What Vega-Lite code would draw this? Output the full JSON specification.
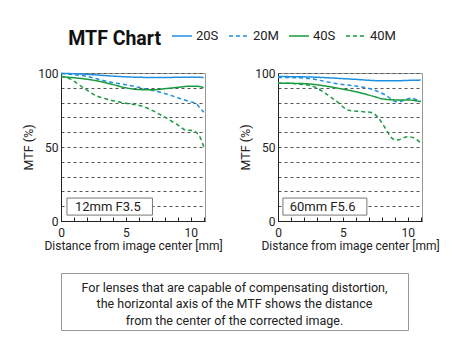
{
  "$schema": "https://vega.github.io/schema/vega-lite/v6.json",
  "background": "white",
  "padding": {"left": 22, "top": 25, "right": 5, "bottom": 5},
  "config": {
    "font": "Roboto",
    "view": {"stroke": "#999999", "strokeWidth": 1},
    "axis": {
      "labelFont": "Roboto", "titleFont": "Roboto",
      "labelFontSize": 12, "labelColor": "#222222",
      "titleFontSize": 12.5, "titleFontWeight": "normal", "titleColor": "#222222",
      "domainColor": "#222222", "tickColor": "#222222",
      "gridColor": "#555555", "gridDash": [3, 3], "gridWidth": 1
    },
    "axisX": {"titleFontSize": 12},
    "legend": {"labelFont": "Roboto"},
    "title": {"font": "Roboto"},
    "text": {"font": "Roboto"}
  },
  "title": {"text": "MTF Chart", "anchor": "start", "fontSize": 19.5, "fontWeight": "bold", "color": "#111111", "dx": 46, "offset": -24},
  "datasets": {
    "labels": [
      {"lens": "12mm F3.5", "x1": 0.46, "x2": 7.05, "y1": 4, "y2": 15.5, "tx": 1.07, "ty": 9.6},
      {"lens": "60mm F5.6", "x1": 0.38, "x2": 6.85, "y1": 4, "y2": 15.5, "tx": 0.9, "ty": 9.6}
    ],
    "note": [
      {"line": 1, "text": "For lenses that are capable of compensating distortion,"},
      {"line": 2, "text": "the horizontal axis of the MTF shows the distance"},
      {"line": 3, "text": "from the center of the corrected image."}
    ],
    "mtf": [
      {"lens": "12mm F3.5", "series": "20S", "x": 0, "y": 99.7},
      {"lens": "12mm F3.5", "series": "20S", "x": 1, "y": 99.5},
      {"lens": "12mm F3.5", "series": "20S", "x": 2, "y": 99.1},
      {"lens": "12mm F3.5", "series": "20S", "x": 3, "y": 98.5},
      {"lens": "12mm F3.5", "series": "20S", "x": 4, "y": 97.9},
      {"lens": "12mm F3.5", "series": "20S", "x": 5, "y": 97.4},
      {"lens": "12mm F3.5", "series": "20S", "x": 6, "y": 97.1},
      {"lens": "12mm F3.5", "series": "20S", "x": 7, "y": 97.0},
      {"lens": "12mm F3.5", "series": "20S", "x": 8, "y": 97.0},
      {"lens": "12mm F3.5", "series": "20S", "x": 9, "y": 97.1},
      {"lens": "12mm F3.5", "series": "20S", "x": 10, "y": 97.2},
      {"lens": "12mm F3.5", "series": "20S", "x": 11, "y": 97.0},

      {"lens": "12mm F3.5", "series": "20M", "x": 0, "y": 99.6},
      {"lens": "12mm F3.5", "series": "20M", "x": 1, "y": 98.9},
      {"lens": "12mm F3.5", "series": "20M", "x": 2, "y": 97.7},
      {"lens": "12mm F3.5", "series": "20M", "x": 3, "y": 95.5},
      {"lens": "12mm F3.5", "series": "20M", "x": 4, "y": 93.5},
      {"lens": "12mm F3.5", "series": "20M", "x": 5, "y": 92.0},
      {"lens": "12mm F3.5", "series": "20M", "x": 6, "y": 90.3},
      {"lens": "12mm F3.5", "series": "20M", "x": 7, "y": 88.3},
      {"lens": "12mm F3.5", "series": "20M", "x": 8, "y": 86.2},
      {"lens": "12mm F3.5", "series": "20M", "x": 9, "y": 83.3},
      {"lens": "12mm F3.5", "series": "20M", "x": 10, "y": 80.5},
      {"lens": "12mm F3.5", "series": "20M", "x": 10.4, "y": 79.5},
      {"lens": "12mm F3.5", "series": "20M", "x": 10.75, "y": 76.0},
      {"lens": "12mm F3.5", "series": "20M", "x": 11, "y": 73.5},

      {"lens": "12mm F3.5", "series": "40S", "x": 0, "y": 97.5},
      {"lens": "12mm F3.5", "series": "40S", "x": 1, "y": 96.8},
      {"lens": "12mm F3.5", "series": "40S", "x": 2, "y": 95.8},
      {"lens": "12mm F3.5", "series": "40S", "x": 3, "y": 94.3},
      {"lens": "12mm F3.5", "series": "40S", "x": 4, "y": 92.2},
      {"lens": "12mm F3.5", "series": "40S", "x": 5, "y": 90.0},
      {"lens": "12mm F3.5", "series": "40S", "x": 6, "y": 88.8},
      {"lens": "12mm F3.5", "series": "40S", "x": 7, "y": 88.6},
      {"lens": "12mm F3.5", "series": "40S", "x": 8, "y": 89.4},
      {"lens": "12mm F3.5", "series": "40S", "x": 9, "y": 90.3},
      {"lens": "12mm F3.5", "series": "40S", "x": 10, "y": 91.1},
      {"lens": "12mm F3.5", "series": "40S", "x": 10.5, "y": 91.0},
      {"lens": "12mm F3.5", "series": "40S", "x": 11, "y": 90.2},

      {"lens": "12mm F3.5", "series": "40M", "x": 0, "y": 97.8},
      {"lens": "12mm F3.5", "series": "40M", "x": 0.6, "y": 96.4},
      {"lens": "12mm F3.5", "series": "40M", "x": 1.6, "y": 90.8},
      {"lens": "12mm F3.5", "series": "40M", "x": 2.6, "y": 85.1},
      {"lens": "12mm F3.5", "series": "40M", "x": 3.6, "y": 82.2},
      {"lens": "12mm F3.5", "series": "40M", "x": 5, "y": 79.6},
      {"lens": "12mm F3.5", "series": "40M", "x": 6.4, "y": 77.2},
      {"lens": "12mm F3.5", "series": "40M", "x": 7.7, "y": 71.6},
      {"lens": "12mm F3.5", "series": "40M", "x": 9, "y": 64.9},
      {"lens": "12mm F3.5", "series": "40M", "x": 9.6, "y": 61.5},
      {"lens": "12mm F3.5", "series": "40M", "x": 10.2, "y": 61.0},
      {"lens": "12mm F3.5", "series": "40M", "x": 10.75, "y": 56.0},
      {"lens": "12mm F3.5", "series": "40M", "x": 11, "y": 50.2},

      {"lens": "60mm F5.6", "series": "20S", "x": 0, "y": 97.6},
      {"lens": "60mm F5.6", "series": "20S", "x": 2, "y": 97.4},
      {"lens": "60mm F5.6", "series": "20S", "x": 4, "y": 96.7},
      {"lens": "60mm F5.6", "series": "20S", "x": 5, "y": 96.2},
      {"lens": "60mm F5.6", "series": "20S", "x": 6, "y": 95.7},
      {"lens": "60mm F5.6", "series": "20S", "x": 7, "y": 95.1},
      {"lens": "60mm F5.6", "series": "20S", "x": 8, "y": 94.7},
      {"lens": "60mm F5.6", "series": "20S", "x": 9, "y": 94.7},
      {"lens": "60mm F5.6", "series": "20S", "x": 10, "y": 95.0},
      {"lens": "60mm F5.6", "series": "20S", "x": 11, "y": 95.2},

      {"lens": "60mm F5.6", "series": "20M", "x": 0, "y": 97.0},
      {"lens": "60mm F5.6", "series": "20M", "x": 1, "y": 96.9},
      {"lens": "60mm F5.6", "series": "20M", "x": 2.4, "y": 96.3},
      {"lens": "60mm F5.6", "series": "20M", "x": 3.65, "y": 94.3},
      {"lens": "60mm F5.6", "series": "20M", "x": 4.68, "y": 92.6},
      {"lens": "60mm F5.6", "series": "20M", "x": 5.97, "y": 91.2},
      {"lens": "60mm F5.6", "series": "20M", "x": 7.25, "y": 89.0},
      {"lens": "60mm F5.6", "series": "20M", "x": 8.28, "y": 85.1},
      {"lens": "60mm F5.6", "series": "20M", "x": 9.18, "y": 80.5},
      {"lens": "60mm F5.6", "series": "20M", "x": 9.8, "y": 81.8},
      {"lens": "60mm F5.6", "series": "20M", "x": 10.2, "y": 83.0},
      {"lens": "60mm F5.6", "series": "20M", "x": 10.7, "y": 82.0},
      {"lens": "60mm F5.6", "series": "20M", "x": 11, "y": 81.2},

      {"lens": "60mm F5.6", "series": "40S", "x": 0, "y": 93.0},
      {"lens": "60mm F5.6", "series": "40S", "x": 1, "y": 93.0},
      {"lens": "60mm F5.6", "series": "40S", "x": 2.4, "y": 92.6},
      {"lens": "60mm F5.6", "series": "40S", "x": 3.65, "y": 91.2},
      {"lens": "60mm F5.6", "series": "40S", "x": 4.68, "y": 89.6},
      {"lens": "60mm F5.6", "series": "40S", "x": 5.97, "y": 87.4},
      {"lens": "60mm F5.6", "series": "40S", "x": 7.25, "y": 84.5},
      {"lens": "60mm F5.6", "series": "40S", "x": 8.28, "y": 82.2},
      {"lens": "60mm F5.6", "series": "40S", "x": 9.3, "y": 81.8},
      {"lens": "60mm F5.6", "series": "40S", "x": 10, "y": 81.8},
      {"lens": "60mm F5.6", "series": "40S", "x": 11, "y": 80.6},

      {"lens": "60mm F5.6", "series": "40M", "x": 0, "y": 93.0},
      {"lens": "60mm F5.6", "series": "40M", "x": 1, "y": 93.0},
      {"lens": "60mm F5.6", "series": "40M", "x": 1.6, "y": 92.6},
      {"lens": "60mm F5.6", "series": "40M", "x": 2.75, "y": 90.8},
      {"lens": "60mm F5.6", "series": "40M", "x": 3.65, "y": 86.3},
      {"lens": "60mm F5.6", "series": "40M", "x": 4.55, "y": 80.6},
      {"lens": "60mm F5.6", "series": "40M", "x": 5.45, "y": 74.8},
      {"lens": "60mm F5.6", "series": "40M", "x": 6.48, "y": 73.9},
      {"lens": "60mm F5.6", "series": "40M", "x": 7.25, "y": 73.2},
      {"lens": "60mm F5.6", "series": "40M", "x": 7.76, "y": 69.4},
      {"lens": "60mm F5.6", "series": "40M", "x": 8.28, "y": 62.6},
      {"lens": "60mm F5.6", "series": "40M", "x": 8.8, "y": 55.9},
      {"lens": "60mm F5.6", "series": "40M", "x": 9.2, "y": 54.7},
      {"lens": "60mm F5.6", "series": "40M", "x": 10, "y": 57.0},
      {"lens": "60mm F5.6", "series": "40M", "x": 10.5, "y": 56.0},
      {"lens": "60mm F5.6", "series": "40M", "x": 11, "y": 52.7}
    ]
  },
  "vconcat": [
    {
      "hconcat": [
        {
          "width": 144, "height": 148,
          "layer": [
            {
              "data": {"name": "labels"},
              "transform": [{"filter": "datum.lens === '12mm F3.5'"}],
              "mark": {"type": "rect", "fill": "white", "stroke": "#777777", "strokeWidth": 1},
              "encoding": {
                "x": {"field": "x1", "type": "quantitative", "scale": {"domain": [0, 11.1], "nice": false},
                  "axis": {"title": "Distance from image center [mm]", "values": [0,1,2,3,4,5,6,7,8,9,10,11],
                    "labelExpr": "datum.value % 5 === 0 ? datum.label : ''", "tickSize": -4, "labelPadding": 10, "titlePadding": 2, "grid": false, "labelFlush": false}},
                "x2": {"field": "x2"},
                "y": {"field": "y1", "type": "quantitative", "scale": {"domain": [0, 100], "nice": false},
                  "axis": {"title": "MTF (%)", "values": [0,10,20,30,40,50,60,70,80,90,100],
                    "labelExpr": "datum.value % 50 === 0 ? datum.label : ''", "ticks": false, "labelPadding": 3, "titlePadding": 2, "grid": true}},
                "y2": {"field": "y2"}
              }
            },
            {
              "data": {"name": "labels"},
              "transform": [{"filter": "datum.lens === '12mm F3.5'"}],
              "mark": {"type": "text", "align": "left", "baseline": "middle", "fontSize": 13, "color": "#222222"},
              "encoding": {
                "x": {"field": "tx", "type": "quantitative", "scale": {"domain": [0, 11.1], "nice": false},
                  "axis": {"title": "Distance from image center [mm]", "values": [0,1,2,3,4,5,6,7,8,9,10,11],
                    "labelExpr": "datum.value % 5 === 0 ? datum.label : ''", "tickSize": -4, "labelPadding": 10, "titlePadding": 2, "grid": false, "labelFlush": false}},
                "y": {"field": "ty", "type": "quantitative", "scale": {"domain": [0, 100], "nice": false},
                  "axis": {"title": "MTF (%)", "values": [0,10,20,30,40,50,60,70,80,90,100],
                    "labelExpr": "datum.value % 50 === 0 ? datum.label : ''", "ticks": false, "labelPadding": 3, "titlePadding": 2, "grid": true}},
                "text": {"field": "lens"}
              }
            },
            {
              "data": {"name": "mtf"},
              "transform": [{"filter": "datum.lens === '12mm F3.5'"}],
              "mark": {"type": "line", "interpolate": "monotone", "strokeWidth": 1.5},
              "encoding": {
                "x": {"field": "x", "type": "quantitative", "scale": {"domain": [0, 11.1], "nice": false},
                  "axis": {"title": "Distance from image center [mm]", "values": [0,1,2,3,4,5,6,7,8,9,10,11],
                    "labelExpr": "datum.value % 5 === 0 ? datum.label : ''", "tickSize": -4, "labelPadding": 10, "titlePadding": 2, "grid": false, "labelFlush": false}},
                "y": {"field": "y", "type": "quantitative", "scale": {"domain": [0, 100], "nice": false},
                  "axis": {"title": "MTF (%)", "values": [0,10,20,30,40,50,60,70,80,90,100],
                    "labelExpr": "datum.value % 50 === 0 ? datum.label : ''", "ticks": false, "labelPadding": 3, "titlePadding": 2, "grid": true}},
                "color": {"field": "series", "type": "nominal",
                  "scale": {"domain": ["20S", "20M", "40S", "40M"], "range": ["#1e8fe0", "#1e8fe0", "#1a9a40", "#1a9a40"]},
                  "legend": {"orient": "none", "direction": "horizontal", "legendX": 110, "legendY": -48, "title": null,
                    "symbolType": "stroke", "symbolSize": 400, "symbolStrokeWidth": 1.5, "labelFontSize": 13, "labelOffset": 3, "columnPadding": 7, "labelColor": "#222222"}},
                "strokeDash": {"field": "series", "type": "nominal",
                  "scale": {"domain": ["20S", "20M", "40S", "40M"], "range": [[1, 0], [4, 3], [1, 0], [4, 3]]},
                  "legend": {"orient": "none", "direction": "horizontal", "legendX": 110, "legendY": -48, "title": null,
                    "symbolType": "stroke", "symbolSize": 400, "symbolStrokeWidth": 1.5, "labelFontSize": 13, "labelOffset": 3, "columnPadding": 7, "labelColor": "#222222"}}
              }
            }
          ]
        },
        {
          "width": 144, "height": 148,
          "layer": [
            {
              "data": {"name": "labels"},
              "transform": [{"filter": "datum.lens === '60mm F5.6'"}],
              "mark": {"type": "rect", "fill": "white", "stroke": "#777777", "strokeWidth": 1},
              "encoding": {
                "x": {"field": "x1", "type": "quantitative", "scale": {"domain": [0, 11.1], "nice": false},
                  "axis": {"title": "Distance from image center [mm]", "values": [0,1,2,3,4,5,6,7,8,9,10,11],
                    "labelExpr": "datum.value % 5 === 0 ? datum.label : ''", "tickSize": -4, "labelPadding": 10, "titlePadding": 2, "grid": false, "labelFlush": false}},
                "x2": {"field": "x2"},
                "y": {"field": "y1", "type": "quantitative", "scale": {"domain": [0, 100], "nice": false},
                  "axis": {"title": "MTF (%)", "values": [0,10,20,30,40,50,60,70,80,90,100],
                    "labelExpr": "datum.value % 50 === 0 ? datum.label : ''", "ticks": false, "labelPadding": 3, "titlePadding": 2, "grid": true}},
                "y2": {"field": "y2"}
              }
            },
            {
              "data": {"name": "labels"},
              "transform": [{"filter": "datum.lens === '60mm F5.6'"}],
              "mark": {"type": "text", "align": "left", "baseline": "middle", "fontSize": 13, "color": "#222222"},
              "encoding": {
                "x": {"field": "tx", "type": "quantitative", "scale": {"domain": [0, 11.1], "nice": false},
                  "axis": {"title": "Distance from image center [mm]", "values": [0,1,2,3,4,5,6,7,8,9,10,11],
                    "labelExpr": "datum.value % 5 === 0 ? datum.label : ''", "tickSize": -4, "labelPadding": 10, "titlePadding": 2, "grid": false, "labelFlush": false}},
                "y": {"field": "ty", "type": "quantitative", "scale": {"domain": [0, 100], "nice": false},
                  "axis": {"title": "MTF (%)", "values": [0,10,20,30,40,50,60,70,80,90,100],
                    "labelExpr": "datum.value % 50 === 0 ? datum.label : ''", "ticks": false, "labelPadding": 3, "titlePadding": 2, "grid": true}},
                "text": {"field": "lens"}
              }
            },
            {
              "data": {"name": "mtf"},
              "transform": [{"filter": "datum.lens === '60mm F5.6'"}],
              "mark": {"type": "line", "interpolate": "monotone", "strokeWidth": 1.5},
              "encoding": {
                "x": {"field": "x", "type": "quantitative", "scale": {"domain": [0, 11.1], "nice": false},
                  "axis": {"title": "Distance from image center [mm]", "values": [0,1,2,3,4,5,6,7,8,9,10,11],
                    "labelExpr": "datum.value % 5 === 0 ? datum.label : ''", "tickSize": -4, "labelPadding": 10, "titlePadding": 2, "grid": false, "labelFlush": false}},
                "y": {"field": "y", "type": "quantitative", "scale": {"domain": [0, 100], "nice": false},
                  "axis": {"title": "MTF (%)", "values": [0,10,20,30,40,50,60,70,80,90,100],
                    "labelExpr": "datum.value % 50 === 0 ? datum.label : ''", "ticks": false, "labelPadding": 3, "titlePadding": 2, "grid": true}},
                "color": {"field": "series", "type": "nominal",
                  "scale": {"domain": ["20S", "20M", "40S", "40M"], "range": ["#1e8fe0", "#1e8fe0", "#1a9a40", "#1a9a40"]},
                  "legend": {"orient": "none", "direction": "horizontal", "legendX": 110, "legendY": -48, "title": null,
                    "symbolType": "stroke", "symbolSize": 400, "symbolStrokeWidth": 1.5, "labelFontSize": 13, "labelOffset": 3, "columnPadding": 7, "labelColor": "#222222"}},
                "strokeDash": {"field": "series", "type": "nominal",
                  "scale": {"domain": ["20S", "20M", "40S", "40M"], "range": [[1, 0], [4, 3], [1, 0], [4, 3]]},
                  "legend": {"orient": "none", "direction": "horizontal", "legendX": 110, "legendY": -48, "title": null,
                    "symbolType": "stroke", "symbolSize": 400, "symbolStrokeWidth": 1.5, "labelFontSize": 13, "labelOffset": 3, "columnPadding": 7, "labelColor": "#222222"}}
              }
            }
          ]
        }
      ],
      "spacing": 16
    },
    {
      "width": 347, "height": 57,
      "data": {"name": "note"},
      "mark": {"type": "text", "fontSize": 12.5, "align": "center", "baseline": "middle", "color": "#222222"},
      "encoding": {
        "x": {"datum": 0.5, "type": "quantitative", "scale": {"domain": [0, 1]}, "axis": null},
        "y": {"field": "line", "type": "quantitative", "scale": {"domain": [0.109, 3.564], "reverse": true, "zero": false, "nice": false},
          "axis": {"title": null, "labels": false, "ticks": false, "domain": false, "grid": false, "minExtent": 30, "maxExtent": 30}},
        "text": {"field": "text"}
      }
    }
  ],
  "spacing": 20,
  "resolve": {"scale": {"color": "shared", "strokeDash": "shared"}, "legend": {"color": "shared", "strokeDash": "shared"}}
}
